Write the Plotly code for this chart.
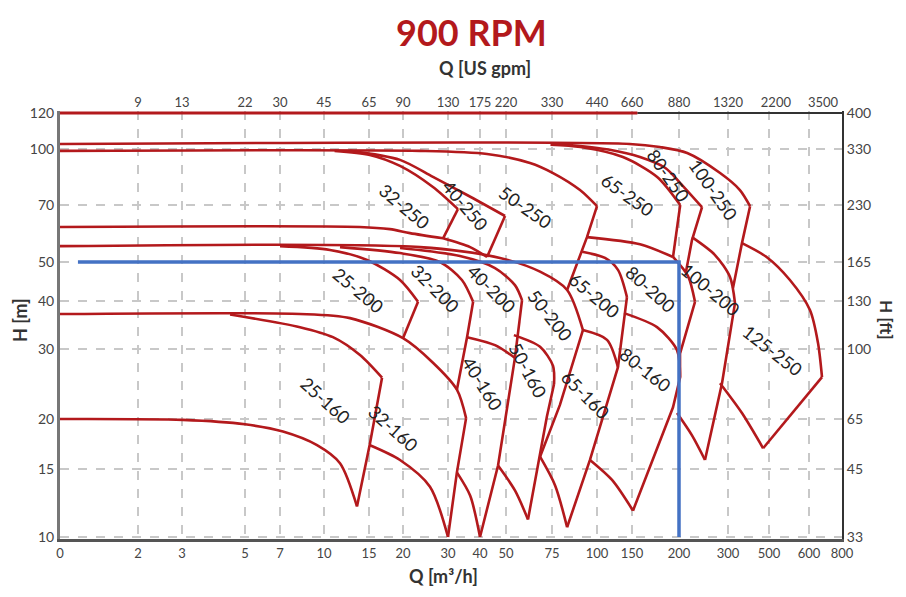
import numpy as np
import plotly.graph_objects as go

# ---------------- axis ticks ----------------
Q_TICKS = [0, 2, 3, 5, 7, 10, 15, 20, 30, 40, 50, 75, 100, 150, 200, 300, 500, 600, 800]
GPM_TICK_TEXT = ["9", "13", "22", "30", "45", "65", "90", "130", "175", "220", "330",
                 "440", "660", "880", "1320", "2200", "3500"]
GPM_AT_Q = [2, 3, 5, 7, 10, 15, 20, 30, 40, 50, 75, 100, 150, 200, 300, 516, 678]
H_TICKS = [10, 15, 20, 30, 40, 50, 70, 100, 120]
FT_TICK_TEXT = ["33", "45", "65", "100", "130", "165", "230", "330", "400"]

# non-uniform scale of the original chart (axis units for each tick)
X_STOPS = [0, 78, 122, 185, 220, 264, 309, 343, 388, 420, 446, 492, 537, 572, 619, 668, 709, 749, 782]
Y_STOPS = [0, 68, 118, 188, 236, 275, 332, 388, 424]

# ---------------- pump curves: Q [m3/h], H [m] ----------------
frame_red_q, frame_red_h = [0, 155], [120, 120]
frame_blk_q, frame_blk_h = [155, 800], [120, 120]

# 250 family
top_100_250 = ([0, 146, 178, 214, 281, 348, 395], [102.6, 102.6, 101.0, 97.5, 85.8, 77.0, 69.5])
top_80_250 = ([79, 116, 157.5, 184, 202, 242], [102.6, 99.5, 95.0, 88.6, 80.5, 69.1])
top_65_250 = ([74, 90, 135, 175, 202], [102.2, 101.0, 95.0, 83.7, 70.0])
top_50_250 = ([0, 23.3, 42.5, 61.8, 75.5, 89.7, 100], [98.8, 98.8, 96.9, 91.5, 85.8, 77.0, 69.5])
top_40_250 = ([12.6, 19.5, 26.2, 35.6, 49.6], [98.8, 93.3, 83.7, 74.6, 65.6])
top_32_250 = ([11.0, 15.1, 19.5, 26.2, 32.8], [98.8, 96.3, 89.8, 78.5, 68.3])
bot_32_250 = ([0, 13.8, 17.9, 21.3, 28.7], [61.5, 61.5, 60.7, 59.3, 57.5])
bot_40_250 = ([28.7, 36.6, 42.5], [57.5, 54.6, 51.5])
bot_65_250 = ([93.8, 157.5, 192.8], [57.9, 55.5, 51.5])
top_125_250 = ([357, 485, 550, 605, 649, 672], [55.9, 51.5, 45.1, 37.9, 31.1, 25.5])
bot_125_250 = ([280.8, 357, 464.6], [24.6, 20.7, 16.9])

# 200 family
top_50_200 = ([0, 23.3, 47.5, 67.5, 82.6, 91.4], [54.9, 54.6, 51.2, 47.3, 42.6, 33.6])
top_25_200 = ([7, 10.55, 14.73, 19.5, 22.9], [54.9, 53.7, 50.6, 45.1, 39.8])
top_32_200 = ([11.55, 19.5, 27.9, 34.0, 37.6], [54.6, 52.7, 50.0, 45.1, 39.8])
top_40_200 = ([19.5, 33.4, 45.5, 54.1, 57.6], [54.3, 51.8, 48.3, 43.8, 40.2])
top_65_200 = ([91, 109.7, 127.5, 141.5], [53.1, 51.2, 47.8, 40.9])
top_80_200 = ([192.8, 215.5, 228.3], [51.5, 46.1, 39.8])
top_100_200 = ([222.7, 269.4, 307.6, 327.3], [57.9, 52.1, 45.9, 39.5])
bot_100_200 = ([197.6, 222.7, 248], [20.7, 18.2, 15.8])
bot_25_200 = ([0, 8.23, 12.64, 20, 26.2, 32.5, 35.3], [37, 37, 36.1, 32, 27.7, 23.7, 20.1])

# 160 family
top_25_160 = ([4.43, 8.23, 10.84, 13.83, 16.75], [36.9, 34.2, 32.2, 28.96, 25.4])
bot_25_160 = ([0, 3.02, 5, 7.17, 9.45, 11.55, 13.46], [20, 19.9, 19.4, 18.6, 17.2, 15.5, 12.0])
bot_32_160 = ([15.13, 19.5, 25.5, 30], [17.2, 15.8, 13.5, 10])
top_40_160 = ([35.6, 45.5, 54.1], [32.2, 30.7, 28.5])
bot_40_160 = ([32.5, 36.6, 40], [14.7, 12.8, 10])
top_50_160 = ([53.6, 67.5, 75.5, 76], [32.6, 30.4, 27.2, 24.5])
bot_50_160 = ([46.7, 54.1, 60.7], [15.3, 13.2, 11.1])
top_65_160 = ([91.4, 112.3, 127.5], [33.6, 31.7, 27.0])
bot_65_160 = ([67.5, 76.5, 82.6], [16.1, 13.6, 10.6])
top_80_160 = ([136.7, 174.8, 197.6, 201.7], [37.2, 34.2, 29.8, 25.4])
bot_80_160 = ([95.6, 119, 150.9], [15.8, 14.05, 11.7])

# end-of-curve (right) edges
edge_100_250 = ([395, 357, 319.3], [69.5, 55.9, 43.1])
edge_80_250 = ([242, 222.7, 211.9], [69.1, 56.9, 47.3])
edge_65_250 = ([202, 192.8], [70.0, 51.5])
edge_50_250 = ([100, 93.8, 82.6], [69.5, 57.9, 42.6])
edge_40_250 = ([49.6, 42.5], [65.6, 51.5])
edge_32_250 = ([32.8, 28.7], [68.3, 57.5])
edge_125_250 = ([672, 464.6], [25.5, 16.9])
edge_100_200 = ([327.3, 285.5, 248], [39.5, 24.6, 15.8])
edge_80_200 = ([228.3, 201.7, 201.7], [39.8, 29.2, 25.4])
edge_65_200 = ([141.5, 127.5, 95.6, 82.6], [40.9, 27.0, 15.8, 10.6])
edge_50_200 = ([91.4, 78.9, 67.5], [33.6, 21.7, 16.1])
edge_40_200 = ([57.6, 54.1], [40.2, 28.5])
edge_32_200 = ([37.6, 35.6, 32.5], [39.8, 32.2, 23.7])
edge_25_200 = ([22.9, 20], [39.8, 32.0])
edge_25_160 = ([16.75, 15.13, 13.46], [25.4, 17.4, 12.0])
edge_32_160 = ([35.3, 32.5, 30], [20.1, 14.7, 10])
edge_40_160 = ([54.1, 50.9, 46.7, 40], [28.5, 22.3, 15.3, 10])
edge_50_160 = ([76, 71.7, 60.7], [24.5, 20.3, 11.1])
edge_80_160 = ([201.7, 192.8, 150.9], [25.4, 21.4, 11.7])

# duty point lines
duty_q, duty_h = [0.46, 200, 200], [50, 50, 10]

# model labels
LABELS = ["32-250", "40-250", "50-250", "65-250", "80-250", "100-250",
          "25-200", "32-200", "40-200", "50-200", "65-200", "80-200", "100-200", "125-250",
          "25-160", "32-160", "40-160", "50-160", "65-160", "80-160"]
LABEL_Q = [20.2, 35.0, 59.2, 143, 187, 265, 13.6, 26.7, 44.3, 73.7, 98.1, 168, 258.5, 507,
           10.1, 18.4, 40.7, 60.7, 93.2, 163.4]
LABEL_H = [69.5, 70, 69.1, 74.6, 84.7, 77.5, 42.6, 43.1, 42.8, 36.8, 41.4, 42.8, 42.8, 29.8,
           22.3, 19.0, 24.6, 26.6, 23.0, 26.6]
LABEL_ANGLE = [40, 50, 35, 35, 55, 55, 40, 45, 45, 52, 40, 42, 40, 38, 42, 42, 58, 62, 45, 38]


def xs(q):
    q = np.asarray(q, dtype=float)
    lq = np.log10(np.maximum(q, 2))
    return np.where(q < 2, q / 2 * X_STOPS[1],
                    np.interp(lq, np.log10(Q_TICKS[1:]), X_STOPS[1:]))


def ys(h):
    return np.interp(np.log10(np.asarray(h, dtype=float)), np.log10(H_TICKS), Y_STOPS)


def join(curves):
    xx, yy = [], []
    for q, h in curves:
        xx += list(xs(q)) + [None]
        yy += list(ys(h)) + [None]
    return xx, yy


RED = "#B3191C"
curves = [top_100_250, top_80_250, top_65_250, top_50_250, top_40_250, top_32_250,
          bot_32_250, bot_40_250, bot_65_250, top_125_250, bot_125_250,
          top_50_200, top_25_200, top_32_200, top_40_200, top_65_200, top_80_200,
          top_100_200, bot_100_200, bot_25_200,
          top_25_160, bot_25_160, bot_32_160, top_40_160, bot_40_160, top_50_160,
          bot_50_160, top_65_160, bot_65_160, top_80_160, bot_80_160]
edges = [edge_100_250, edge_80_250, edge_65_250, edge_50_250, edge_40_250, edge_32_250,
         edge_125_250, edge_100_200, edge_80_200, edge_65_200, edge_50_200, edge_40_200,
         edge_32_200, edge_25_200, edge_25_160, edge_32_160, edge_40_160, edge_50_160,
         edge_80_160]

fig = go.Figure()
cx, cy = join(curves)
fig.add_trace(go.Scatter(x=cx, y=cy, mode="lines", line=dict(color=RED, width=2.6, shape="spline", smoothing=0.8),
                         hoverinfo="skip", showlegend=False))
ex, ey = join(edges)
fig.add_trace(go.Scatter(x=ex, y=ey, mode="lines", line=dict(color=RED, width=2.6),
                         hoverinfo="skip", showlegend=False))
fig.add_trace(go.Scatter(x=xs(frame_blk_q), y=ys(frame_blk_h), mode="lines",
                         line=dict(color="#333333", width=2), hoverinfo="skip", showlegend=False))
fig.add_trace(go.Scatter(x=xs(frame_red_q), y=ys(frame_red_h), mode="lines",
                         line=dict(color=RED, width=3), hoverinfo="skip", showlegend=False))
fig.add_trace(go.Scatter(x=xs(duty_q), y=ys(duty_h), mode="lines",
                         line=dict(color="#4472C4", width=3.5), hoverinfo="skip", showlegend=False))
# helper so the secondary axes render
fig.add_trace(go.Scatter(x=xs([2, 800]), y=ys([10, 120]), mode="markers", marker=dict(opacity=0),
                         xaxis="x2", yaxis="y2", hoverinfo="skip", showlegend=False))

FONT = "Lato, 'Open Sans', sans-serif"
for t, q, h, a in zip(LABELS, LABEL_Q, LABEL_H, LABEL_ANGLE):
    fig.add_annotation(x=float(xs(q)), y=float(ys(h)), xref="x", yref="y", text=t, showarrow=False,
                       textangle=a, font=dict(family=FONT, size=18, color="#222222"))

XR = [0, X_STOPS[-1]]
YR = [-2, Y_STOPS[-1] + 2]
xtickfont = dict(family=FONT, size=13, color="#444444")
ytickfont = dict(family=FONT, size=14, color="#444444")
fig.update_layout(
    width=890, height=581,
    margin=dict(l=52, r=56, t=103, b=50),
    paper_bgcolor="white", plot_bgcolor="white",
    hovermode=False,
    xaxis=dict(range=XR, tickmode="array", tickvals=list(xs(Q_TICKS)), ticktext=[str(v) for v in Q_TICKS],
               showgrid=True, gridcolor="#c8c8c8", griddash="dash", gridwidth=1.5, zeroline=False,
               showline=True, linecolor="#555555", linewidth=3, ticks="", tickangle=0, tickfont=xtickfont),
    xaxis2=dict(range=XR, overlaying="x", side="top", tickmode="array", tickvals=list(xs(GPM_AT_Q)),
                ticktext=GPM_TICK_TEXT, showgrid=False, zeroline=False, showline=False, ticks="",
                tickangle=0, tickfont=xtickfont),
    yaxis=dict(range=YR, tickmode="array", tickvals=list(ys(H_TICKS)), ticktext=[str(v) for v in H_TICKS],
               showgrid=True, gridcolor="#c8c8c8", griddash="dash", gridwidth=1.5, zeroline=False,
               showline=True, linecolor="#777777", linewidth=3, ticks="", tickfont=ytickfont),
    yaxis2=dict(range=YR, overlaying="y", side="right", tickmode="array", tickvals=list(ys(H_TICKS)),
                ticktext=FT_TICK_TEXT, showgrid=False, zeroline=False, showline=True,
                linecolor="#333333", linewidth=2, ticks="", tickfont=ytickfont),
)

bold = dict(family=FONT, size=18, color="#333333")


def px_note(text, px, py, font, angle=0):
    fig.add_annotation(text=text, x=(px - 60) / 782, y=(539 - py) / 428, xref="paper", yref="paper",
                       xanchor="center", yanchor="middle", showarrow=False, textangle=angle, font=font)


px_note("<b>900 RPM</b>", 471, 32, dict(family=FONT, size=36, color=RED))
px_note("<b>Q [US gpm]</b>", 485, 68, bold)
px_note("<b>Q [m³/h]</b>", 443, 576, bold)
px_note("<b>H [m]</b>", 20, 320, bold, -90)
px_note("<b>H [ft]</b>", 887, 320, dict(family=FONT, size=17, color="#333333"), 90)

fig.write_html("out.html")
